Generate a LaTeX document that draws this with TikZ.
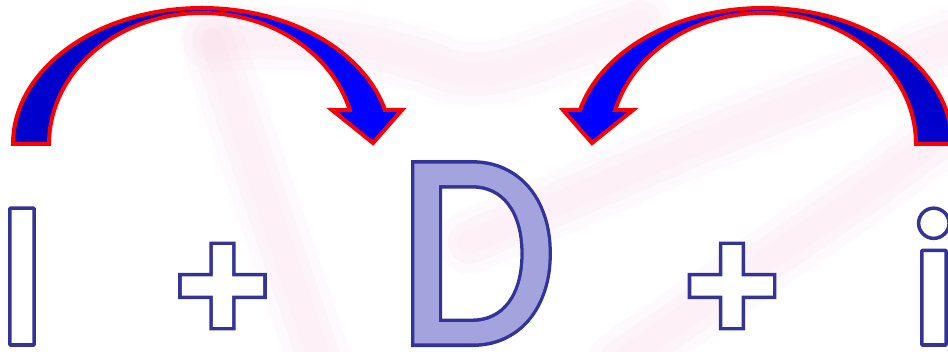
\documentclass[tikz,border=0pt]{standalone}
\usepackage{fontspec}
\setmainfont{Carlito}
\newfontfamily\plusfont{DejaVu Sans}
\usepackage{tikz}

\definecolor{arrowred}{RGB}{255,0,0}
\definecolor{arrowdark}{RGB}{0,0,204}
\definecolor{arrowlight}{RGB}{0,0,255}
\definecolor{glyphline}{RGB}{51,51,153}
\definecolor{glyphfill}{RGB}{163,163,221}
\definecolor{markpink}{RGB}{246,200,222}

% outlined letters: fill with #1, stroke in glyphline
\newcommand\outlined[2]{{\color{#1}\special{pdf:literal direct 2 Tr 3.5 w 1 j 0.2 0.2 0.6 RG}#2\special{pdf:literal direct 0 Tr}}}
% same, but the glyph is fattened first: #2 outer stroke, #3 inner stroke
\newcommand\thickoutlined[4]{%
  \rlap{\color{glyphline}\special{pdf:literal direct 2 Tr #2 w 0 j 0.2 0.2 0.6 RG}#4}%
  {\color{#1}\special{pdf:literal direct 2 Tr #3 w 0 j}#4}\special{pdf:literal direct 0 Tr}}

% bent arrow, centred on the middle of its arch
\def\archpath{(-189,0) arc[start angle=180,end angle=14.5,x radius=189,y radius=136]
  -- (200,34) -- (171,1) -- (130,34) -- (147.8,33.9)
  arc[start angle=15,end angle=180,x radius=153,y radius=131] -- cycle}
\newcommand\bentarrow{%
  \fill[arrowlight] \archpath;
  \begin{scope}
    \clip \archpath;
    \fill[arrowdark] (-200,-10) rectangle (0,150);
  \end{scope}
  \draw[arrowred,line width=4pt,line join=miter] \archpath;}

\begin{document}
\begin{tikzpicture}[x=1pt,y=1pt,
  letter/.style={inner sep=0pt,anchor=base},
  small/.style={font=\fontsize{195}{195}\selectfont\bfseries},
  big/.style={font=\fontsize{278}{278}\selectfont},
  plus/.style={inner sep=0pt,anchor=center,font=\fontsize{122}{122}\plusfont\bfseries},
  bgmark/.style={markpink,opacity=0.1,line cap=round,line join=round}]
\useasboundingbox (0,0) rectangle (948,352);

% faint background mark, three passes for a soft edge
\foreach \w in {64,44,24} {
  \draw[bgmark,line width=\w pt] (212,312) -- (320,-10);
  \draw[bgmark,line width=\w pt] (215,312) .. controls (320,322) and (400,300) .. (440,285)
    .. controls (470,270) and (510,280) .. (560,300) -- (640,330);
  \draw[bgmark,line width=\w pt] (470,110) -- (700,210) -- (948,310);
  \draw[bgmark,line width=\w pt] (620,-10) -- (873,165) -- (960,230);
}

% arrows
\begin{scope}[shift={(202,208)}]
  \bentarrow
\end{scope}
\begin{scope}[shift={(763,208)},xscale=-1]
  \bentarrow
\end{scope}

% letters
\node[letter,small] (ell) at (22,7) {\outlined{white}{l}};
\node[plus] (plusa) at (222.5,66) {\thickoutlined{white}{12.1}{5.1}{+}};
\node[letter,big] (dee) at (477,9.25) {\scalebox{0.93}[1]{\thickoutlined{glyphfill}{8.5}{1.5}{D}}};
\node[plus] (plusb) at (732,66) {\thickoutlined{white}{12.1}{5.1}{+}};
\node[letter,small] (eye) at (934,7) {\outlined{white}{i}};
\end{tikzpicture}
\end{document}
